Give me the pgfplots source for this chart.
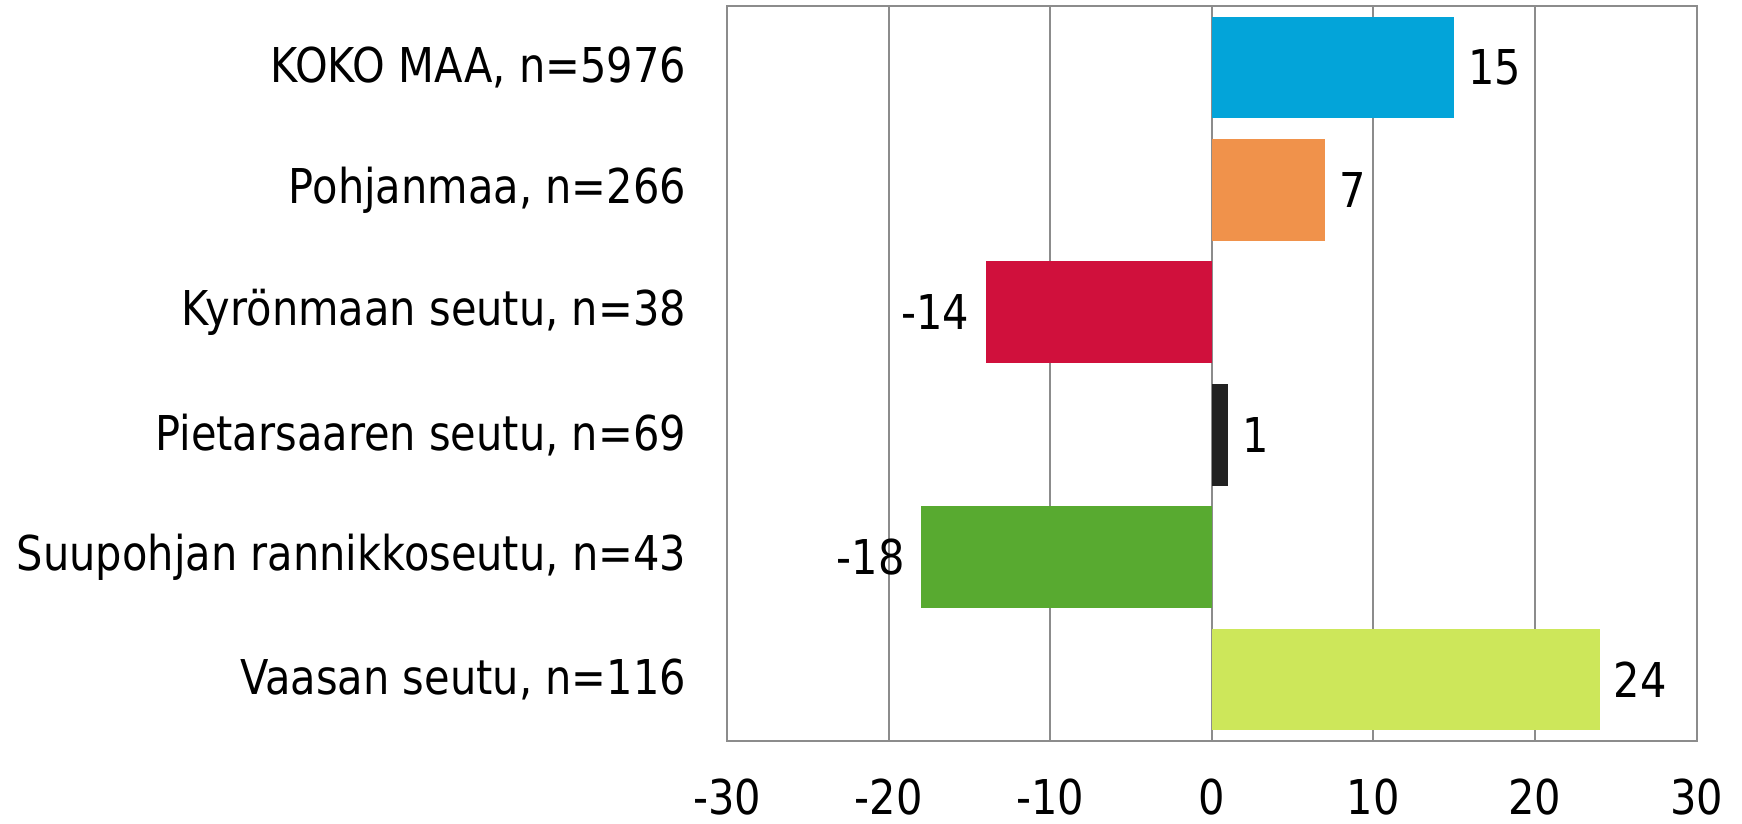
\documentclass[border=0pt]{standalone}
\usepackage{pgfplots}
\pgfplotsset{compat=1.18}
\usepackage{fontspec}
\setmainfont[FakeStretch=0.866]{DejaVu Sans}
\definecolor{cblue}{HTML}{03A4D9}
\definecolor{corange}{HTML}{F0924B}
\definecolor{cred}{HTML}{D0103C}
\definecolor{cblack}{HTML}{222222}
\definecolor{cgreen}{HTML}{58AA30}
\definecolor{clime}{HTML}{CDE75A}
\definecolor{cgrid}{HTML}{8C8C8C}
\begin{document}
\begin{tikzpicture}
\begin{axis}[
  scale only axis,
  width=242.5pt, height=183.75pt,
  xmin=-30, xmax=30,
  ymin=-0.5, ymax=5.5,
  y dir=reverse,
  xtick={-30,-20,...,30},
  ytick={0,1,2,3,4,5},
  yticklabels={{KOKO MAA, n=5976},{Pohjanmaa, n=266},{Kyrönmaan seutu, n=38},{Pietarsaaren seutu, n=69},{Suupohjan rannikkoseutu, n=43},{Vaasan seutu, n=116}},
  xmajorgrids,
  major grid style={cgrid, line width=0.5pt},
  axis line style={cgrid, line width=0.5pt},
  tick style={draw=none},
  xbar, bar shift=0pt, bar width=0.83,
  font=\fontsize{12}{14}\selectfont,
  tick label style={font=\fontsize{12}{14}\selectfont, inner sep=0pt},
  /pgf/number format/assume math mode=true,
  yticklabel style={xshift=-5.8pt},
  xticklabel style={yshift=-9.3pt},
  nodes near coords,
  nodes near coords style={font=\fontsize{12}{14}\selectfont, text=black},
  every node near coord/.append style={anchor=west, xshift=0pt},
]
\addplot[fill=cblue, draw=none] coordinates {(15,0)};
\addplot[fill=corange, draw=none] coordinates {(7,1)};
\addplot[fill=cred, draw=none, every node near coord/.append style={anchor=east, xshift=-0.5pt}] coordinates {(-14,2)};
\addplot[fill=cblack, draw=none] coordinates {(1,3)};
\addplot[fill=cgreen, draw=none, every node near coord/.append style={anchor=east, xshift=-0.5pt}] coordinates {(-18,4)};
\addplot[fill=clime, draw=none] coordinates {(24,5)};
\end{axis}
\path ([xshift=-4.2pt,yshift=1.3pt]current bounding box.north west);
\path ([xshift=4.75pt,yshift=-2pt]current bounding box.south east);
\end{tikzpicture}
\end{document}
